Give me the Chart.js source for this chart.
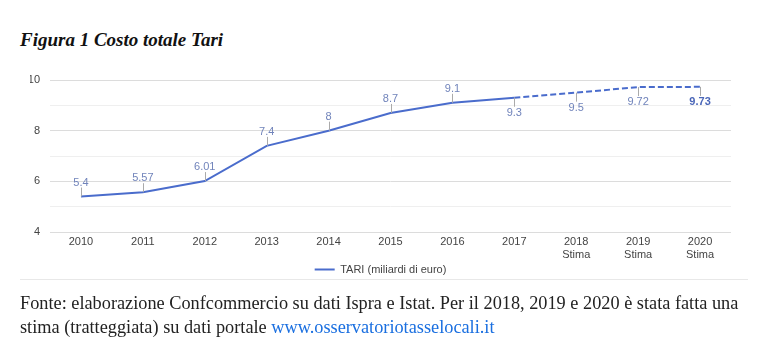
<!DOCTYPE html>
<html>
<head>
<meta charset="utf-8">
<script src="https://cdn.jsdelivr.net/npm/chart.js@4.4.1/dist/chart.umd.min.js"></script>
<style>
    body { margin: 0; background: #fff; width: 782px; height: 363px; overflow: hidden; }
    h1 {
        position: absolute; left: 20px; top: 29px; margin: 0;
        font: italic bold 19px "Liberation Serif", serif; color: #111;
    }
    #box { position: absolute; left: 20px; top: 60px; width: 728px; height: 225px; }
    #linea { position: absolute; left: 20px; top: 279px; width: 728px; height: 1px; background: #e8e8e8; }
    p {
        position: absolute; left: 20px; top: 291px; width: 735px; margin: 0;
        font: 18.3px/24px "Liberation Serif", serif; color: #222;
    }
    p a { color: #1a6fe0; text-decoration: none; }
</style>
</head>
<body>
<h1>Figura 1 Costo totale Tari</h1>
<div id="box"><canvas id="grafico" width="728" height="225"></canvas></div>
<div id="linea"></div>
<p>Fonte: elaborazione Confcommercio su dati Ispra e Istat. Per il 2018, 2019 e 2020 è stata fatta una stima (tratteggiata) su dati portale <a href="#">www.osservatoriotasselocali.it</a></p>
<script>
// Dati del grafico
const anni = ['2010', '2011', '2012', '2013', '2014', '2015', '2016', '2017', ['2018', 'Stima'], ['2019', 'Stima'], ['2020', 'Stima']];
const tari = [5.4, 5.57, 6.01, 7.4, 8, 8.7, 9.1, 9.3, 9.5, 9.72, 9.73];
const etichette = ['5.4', '5.57', '6.01', '7.4', '8', '8.7', '9.1', '9.3', '9.5', '9.72', '9.73'];
const ticksY = [4, 6, 8, 10];
const primoStimato = 7; // da qui in poi la linea è tratteggiata

const blu = '#4a6ccc';
const fontSans = '"Liberation Sans", Arial, sans-serif';

// Annotazioni sopra/sotto i punti
const annotazioni = {
    id: 'annotazioni',
    afterDatasetsDraw(chart) {
        const ctx = chart.ctx;
        const punti = chart.getDatasetMeta(0).data;
        ctx.save();
        ctx.textAlign = 'center';
        ctx.textBaseline = 'middle';
        punti.forEach((p, i) => {
            const sotto = i >= primoStimato;
            const dir = sotto ? 1 : -1;
            ctx.strokeStyle = '#aaa';
            ctx.lineWidth = 1;
            ctx.beginPath();
            ctx.moveTo(Math.round(p.x) + 0.5, p.y);
            ctx.lineTo(Math.round(p.x) + 0.5, p.y + dir * 9);
            ctx.stroke();
            const ultimo = i === punti.length - 1;
            ctx.font = (ultimo ? 'bold ' : '') + '11px ' + fontSans;
            ctx.fillStyle = ultimo ? '#4a66b8' : '#7184bb';
            ctx.fillText(etichette[i], p.x, p.y + dir * (sotto ? 15 : 14));
        });
        ctx.restore();
    }
};

new Chart(document.getElementById('grafico'), {
    type: 'line',
    data: {
        labels: anni,
        datasets: [{
            label: 'TARI (miliardi di euro)',
            data: tari,
            borderColor: blu,
            backgroundColor: blu,
            borderWidth: 2,
            pointRadius: 0,
            tension: 0,
            segment: {
                borderDash: ctx => ctx.p0DataIndex >= primoStimato ? [6, 3] : undefined
            }
        }]
    },
    options: {
        responsive: false,
        animation: false,
        layout: { padding: { top: 20, right: 17, left: 10, bottom: 0 } },
        plugins: {
            tooltip: { enabled: false },
            legend: {
                position: 'bottom',
                labels: {
                    boxWidth: 20,
                    boxHeight: 2,
                    padding: 2,
                    color: '#444',
                    font: { family: fontSans, size: 11 },
                    // solo la linea, senza bordo
                    generateLabels: chart => Chart.defaults.plugins.legend.labels.generateLabels(chart)
                        .map(l => Object.assign(l, { lineWidth: 0 }))
                }
            }
        },
        scales: {
            x: {
                offset: true,
                grid: { display: false, drawTicks: false },
                border: { display: false },
                ticks: {
                    maxRotation: 0,
                    autoSkip: false,
                    padding: 3,
                    color: '#444',
                    font: { family: fontSans, size: 11 }
                },
                afterFit: s => { s.height = 30; }
            },
            y: {
                min: 4,
                max: 10,
                grid: {
                    color: c => (c.tick && c.tick.value % 2 === 0) ? '#dcdcdc' : '#efefef',
                    drawTicks: false
                },
                border: { display: false },
                ticks: {
                    stepSize: 1,
                    padding: 10,
                    color: '#444',
                    font: { family: fontSans, size: 11 },
                    callback: v => ticksY.includes(v) ? v : ''
                },
                afterFit: s => { s.width = 20; }
            }
        }
    },
    plugins: [annotazioni]
});
</script>
</body>
</html>
